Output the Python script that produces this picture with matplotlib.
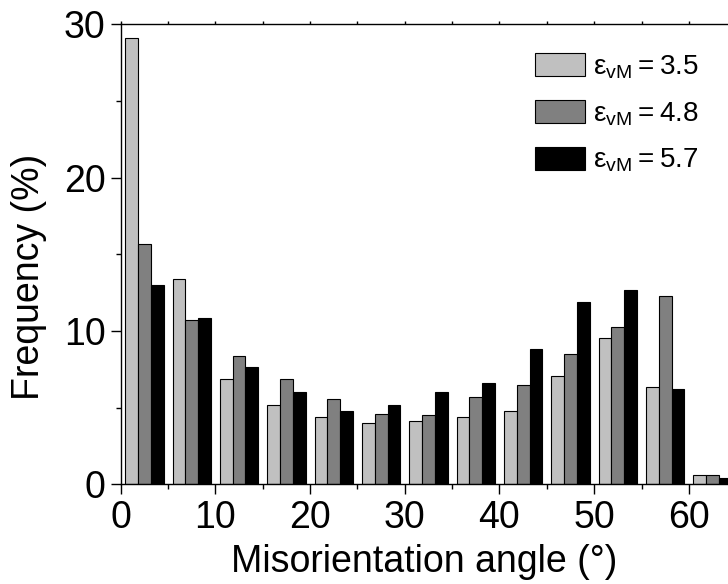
import numpy as np
import matplotlib
matplotlib.use("Agg")
import matplotlib.pyplot as plt
from matplotlib.ticker import MultipleLocator

plt.rcParams['font.family'] = ['Liberation Sans', 'DejaVu Sans']
plt.rcParams['mathtext.fontset'] = 'custom'
plt.rcParams['mathtext.rm'] = 'Liberation Sans'
plt.rcParams['mathtext.default'] = 'regular'

# bin centres of the 5 degree misorientation bins
angles = [2.5, 7.5, 12.5, 17.5, 22.5, 27.5, 32.5, 37.5, 42.5, 47.5, 52.5, 57.5, 62.5]

# frequency (%) for each strain level
freq_35 = [29.1, 13.4, 6.9, 5.2, 4.4, 4.0, 4.15, 4.4, 4.75, 7.05, 9.55, 6.35, 0.6]
freq_48 = [15.65, 10.7, 8.35, 6.9, 5.55, 4.6, 4.5, 5.7, 6.5, 8.5, 10.25, 12.25, 0.6]
freq_57 = [13.0, 10.85, 7.65, 6.05, 4.8, 5.2, 6.0, 6.6, 8.85, 11.9, 12.7, 6.2, 0.4]

labels = [r'$\mathregular{ε_{vM}=3.5}$', r'$\mathregular{ε_{vM}=4.8}$', r'$\mathregular{ε_{vM}=5.7}$']
colors = ['#c0c0c0', '#808080', '#000000']

W, H = 728, 584
fig = plt.figure(figsize=(W / 100, H / 100), dpi=100)
ax = fig.add_axes([120.7 / W, 1 - 484.3 / H, 1 - 120.7 / W, (484.3 - 24.3) / H])

x = np.array(angles)
bw = 1.35
for i, (vals, c, lab) in enumerate(zip([freq_35, freq_48, freq_57], colors, labels)):
    ax.bar(x + (i - 1) * bw, vals, width=bw, color=c, edgecolor='black',
           linewidth=0.8, label=lab, zorder=2)

ax.set_xlim(0, 64.13)
ax.set_ylim(0, 30)
ax.xaxis.set_major_locator(MultipleLocator(10))
ax.xaxis.set_minor_locator(MultipleLocator(5))
ax.yaxis.set_major_locator(MultipleLocator(10))
ax.yaxis.set_minor_locator(MultipleLocator(5))

ax.spines['right'].set_visible(False)
for s in ['left', 'bottom', 'top']:
    ax.spines[s].set_linewidth(1.0)

ax.tick_params(axis='both', which='major', direction='out', length=7, width=1.0,
               labelsize=27, pad=4)
ax.tick_params(axis='both', which='minor', direction='out', length=3.6, width=1.0)
ax.tick_params(axis='x', which='both', top=True, labeltop=False)
# top ticks are just small marks on the frame
for t in ax.xaxis.get_major_ticks() + ax.xaxis.get_minor_ticks():
    t.tick2line.set_markersize(2)

ax.set_xlabel('Misorientation angle (°)', fontsize=27)
ax.set_ylabel('Frequency (%)', fontsize=27)
ax.yaxis.set_label_coords(-0.122, 0.4507)
ax.xaxis.set_label_coords(0.5, -0.13)

ax.legend(loc='upper left', bbox_to_anchor=(535.3 / W, 1 - 53 / H),
          bbox_transform=fig.transFigure, frameon=False, fontsize=20,
          handlelength=1.8, handleheight=0.89, handletextpad=0.27,
          labelspacing=0.7, borderpad=0, borderaxespad=0)

fig.savefig('out.png', dpi=100)
